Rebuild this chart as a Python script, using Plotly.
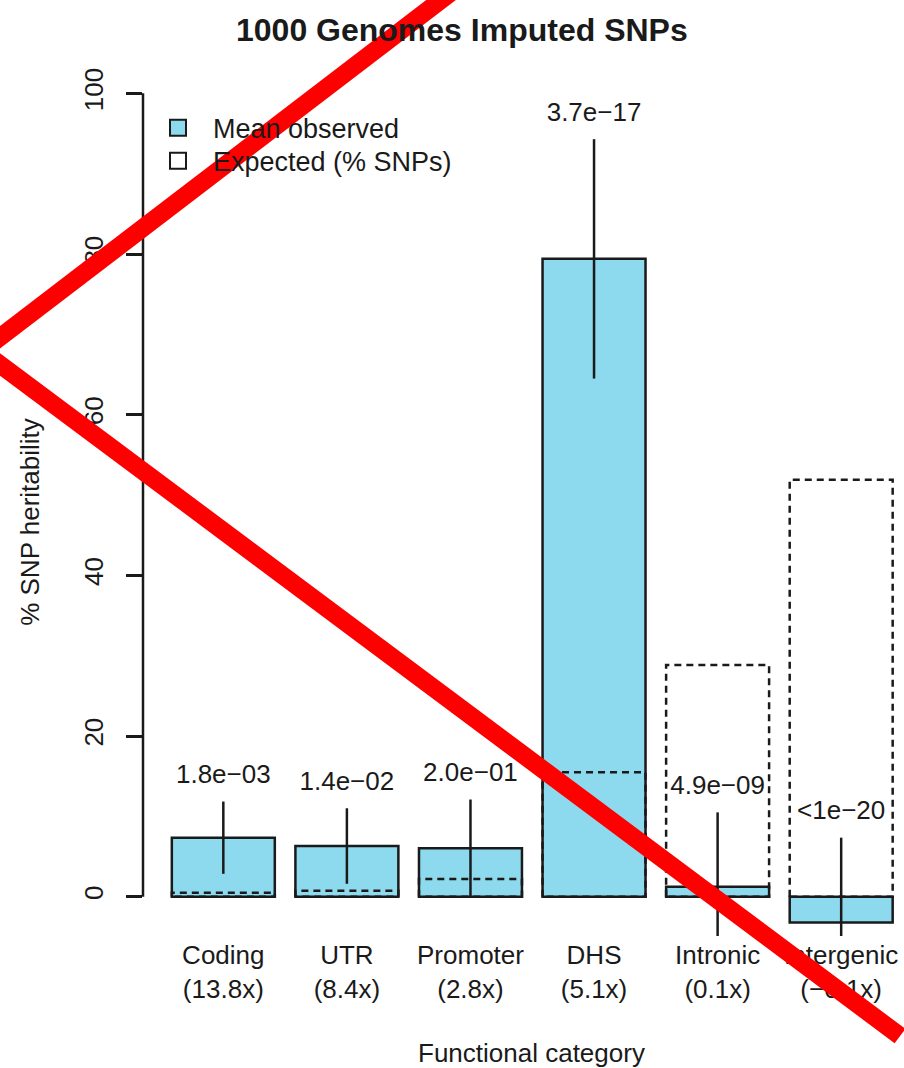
import plotly.graph_objects as go

# ---------------- data ----------------
categories = ["Coding", "UTR", "Promoter", "DHS", "Intronic", "Intergenic"]
enrichment = ["(13.8x)", "(8.4x)", "(2.8x)", "(5.1x)", "(0.1x)", "(\u22120.1x)"]
mean_observed = [7.35, 6.31, 6.03, 79.4, 1.25, -3.2]
ci_half = [4.5, 4.7, 6.07, 14.9, 9.25, 10.55]
expected_pct = [0.5, 0.75, 2.2, 15.5, 28.85, 51.9]
p_labels = ["1.8e\u221203", "1.4e\u221202", "2.0e\u221201", "3.7e\u221217", "4.9e\u221209", "<1e\u221220"]
y_ticks = [0, 20, 40, 60, 80, 100]
legend_names = ["Mean observed", "Expected (% SNPs)"]

# ---------------- layout constants ----------------
W, H = 904, 1068
ML, MR, MT, MB = 142.6, 0, 61.3, 132
FONT = "Liberation Sans, Arial, Helvetica, sans-serif"
FILL = "#8DD9EE"
INK = "#1a1a1a"

# R barplot positions (width 1, space 0.2)
centers = [0.7 + 1.2 * i for i in range(len(categories))]

fig = go.Figure()

fig.add_trace(go.Bar(
    x=centers, y=mean_observed, width=1.0, name=legend_names[0],
    marker=dict(color=FILL, line=dict(color=INK, width=2.5)),
    error_y=dict(type="data", array=ci_half, symmetric=True,
                 thickness=2.5, width=0, color=INK),
    showlegend=False,
))

# dashed expected outlines
ex, ey = [], []
for c, e in zip(centers, expected_pct):
    ex += [c - 0.5, c - 0.5, c + 0.5, c + 0.5, c - 0.5, None]
    ey += [0, e, e, 0, 0, None]
fig.add_trace(go.Scatter(
    x=ex, y=ey, mode="lines", showlegend=False, hoverinfo="skip",
    name=legend_names[1],
    line=dict(color=INK, width=2.5, dash="7px,5px"),
))

# p-value labels above the error bars
fig.add_trace(go.Scatter(
    x=centers, y=[m + h + 3.1 for m, h in zip(mean_observed, ci_half)],
    mode="text", text=p_labels, showlegend=False, hoverinfo="skip",
    textfont=dict(family=FONT, size=26, color=INK),
))

# legend entries (R-style filled boxes), one legend per entry for spacing
for nm, col, lg in zip(legend_names, [FILL, "white"], ["legend", "legend2"]):
    fig.add_trace(go.Scatter(
        x=[None], y=[None], mode="markers", name=nm, showlegend=True,
        legend=lg,
        marker=dict(symbol="square", size=16, color=col,
                    line=dict(color=INK, width=2)),
    ))

plot_w = W - ML - MR
plot_h = H - MT - MB


def px2paper(px, py):
    return (px - ML) / plot_w, (H - MB - py) / plot_h


shapes = [
    # y axis line spanning 0..100 (as in R axis())
    dict(type="line", xref="paper", yref="y", x0=0, x1=0, y0=0, y1=100,
         line=dict(color=INK, width=2.5), layer="above"),
]

# red cross overlay
red_lines = [((-30, 360), (470, -22)), ((-30, 342.6), (900, 1036))]
for (a, b) in red_lines:
    x0, y0 = px2paper(*a)
    x1, y1 = px2paper(*b)
    shapes.append(dict(type="line", xref="paper", yref="paper",
                       x0=x0, y0=y0, x1=x1, y1=y1,
                       line=dict(color="#FF0000", width=18), layer="above"))

tx, ty = px2paper(461.5, 30)
ytx, yty = px2paper(30, 521.5)
xtx, xty = px2paper(531.5, 1053)

annotations = [
    dict(text="<b>1000 Genomes Imputed SNPs</b>", xref="paper", yref="paper",
         x=tx, y=ty, showarrow=False, xanchor="center", yanchor="middle",
         font=dict(family=FONT, size=32, color=INK)),
    dict(text="% SNP heritability", xref="paper", yref="paper",
         x=ytx, y=yty, showarrow=False, textangle=-90,
         xanchor="center", yanchor="middle",
         font=dict(family=FONT, size=26, color=INK)),
    dict(text="Functional category", xref="paper", yref="paper",
         x=xtx, y=xty, showarrow=False, xanchor="center", yanchor="middle",
         font=dict(family=FONT, size=26, color=INK)),
]

lg1x, lg1y = px2paper(142.6, 104)
lg2x, lg2y = px2paper(142.6, 137)
legend_style = dict(xanchor="left", yanchor="top",
                    bgcolor="rgba(0,0,0,0)", borderwidth=0,
                    font=dict(family=FONT, size=27, color=INK),
                    tracegroupgap=0, itemsizing="trace", itemwidth=60)

fig.update_layout(
    width=W, height=H,
    margin=dict(l=ML, r=MR, t=MT, b=MB, pad=0),
    paper_bgcolor="white", plot_bgcolor="white",
    font=dict(family=FONT, size=26, color=INK),
    barmode="overlay",
    showlegend=True,
    legend=dict(x=lg1x, y=lg1y, **legend_style),
    legend2=dict(x=lg2x, y=lg2y, **legend_style),
    shapes=shapes,
    annotations=annotations,
    xaxis=dict(range=[-0.08, 7.31], tickmode="array", tickvals=centers,
               ticktext=[f"{c}<br>{e}" for c, e in zip(categories, enrichment)],
               showline=False, showgrid=False, zeroline=False, ticks="",
               tickfont=dict(family=FONT, size=26, color=INK),
               ticklabelstandoff=1, fixedrange=True),
    yaxis=dict(range=[-4.89, 104.03], tickmode="array", tickvals=y_ticks,
               showline=False, showgrid=False, zeroline=False,
               ticks="outside", ticklen=16, tickwidth=2.5, tickcolor=INK,
               tickangle=-90, tickfont=dict(family=FONT, size=26, color=INK),
               ticklabelstandoff=13, fixedrange=True),
)

fig.write_html("out.html")
